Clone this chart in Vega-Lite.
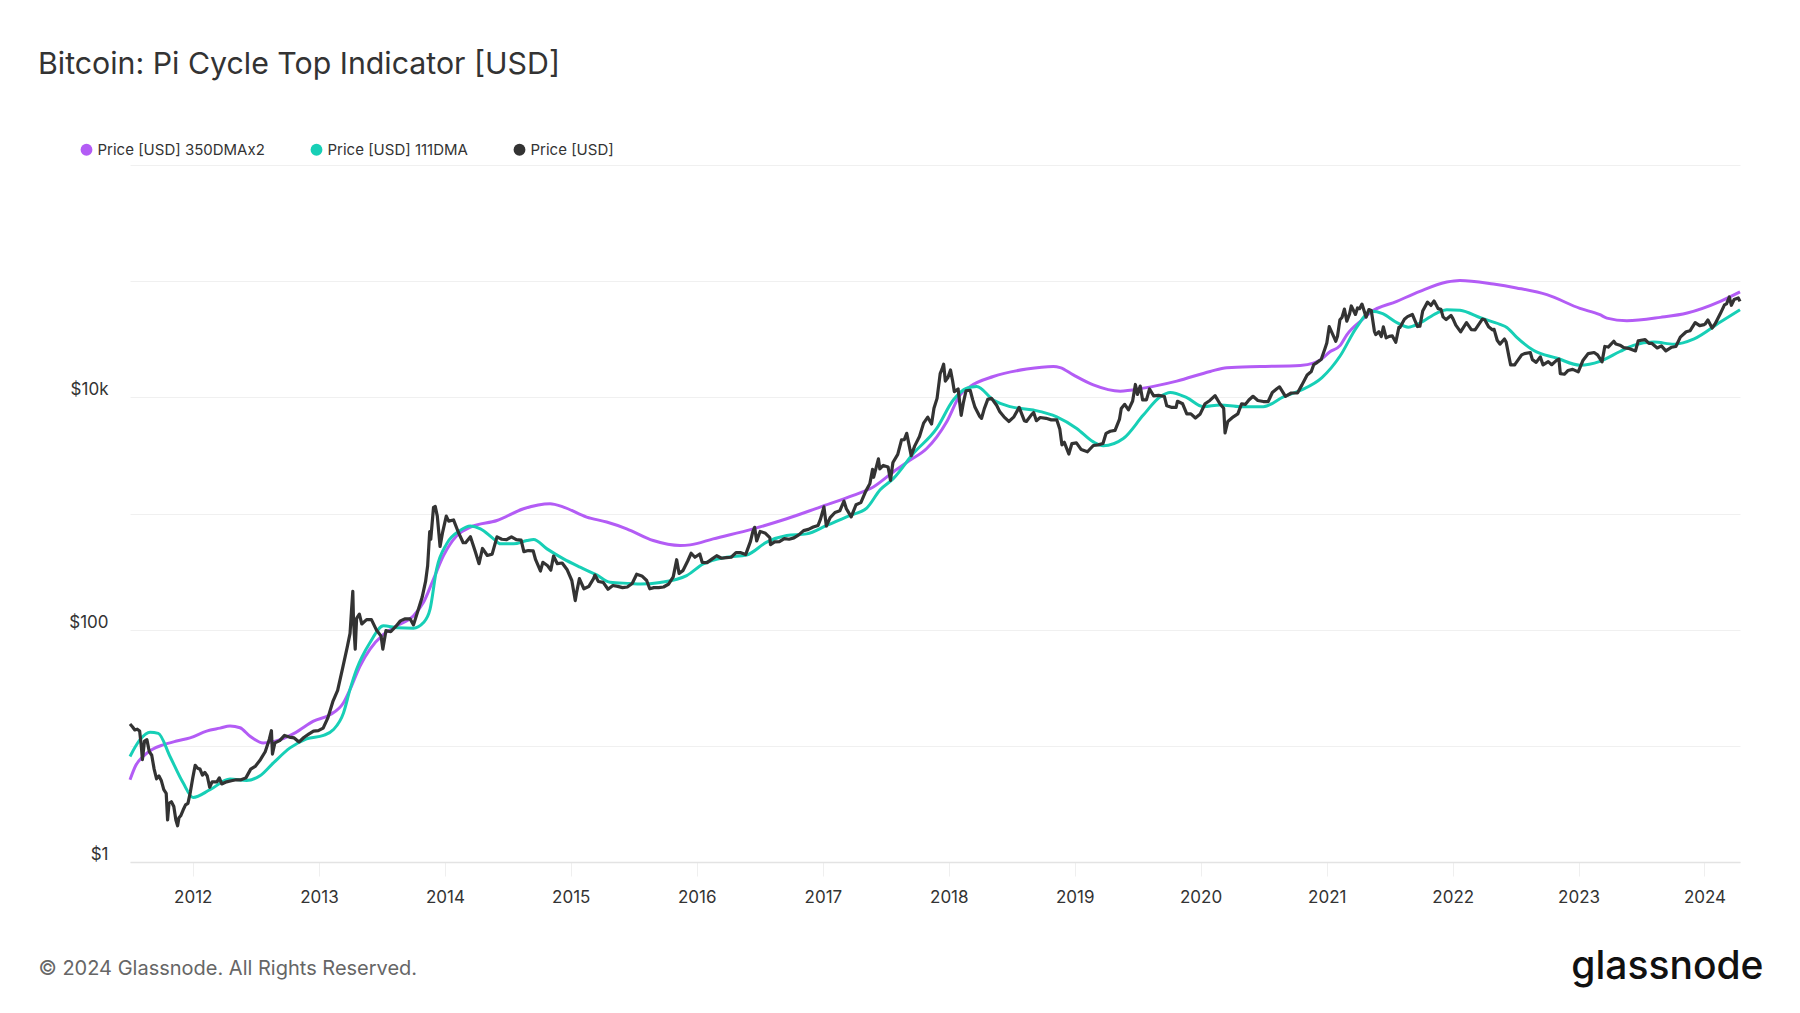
{
  "$schema": "https://vega.github.io/schema/vega-lite/v6.json",
  "description": "Bitcoin Pi Cycle Top Indicator: price with 111DMA and 350DMA x2 on a log scale.",
  "width": 1610,
  "height": 697,
  "autosize": {"type": "none"},
  "padding": {"left": 130, "top": 165, "right": 60, "bottom": 151},
  "background": "#ffffff",
  "title": {
    "text": "Bitcoin: Pi Cycle Top Indicator [USD]",
    "anchor": "start",
    "frame": "group",
    "dx": -92,
    "offset": 61.5,
    "font": "Inter",
    "fontSize": 30.3,
    "fontWeight": "normal",
    "color": "#333333"
  },
  "config": {
    "view": {"stroke": null},
    "font": "Inter",
    "axis": {
      "labelFont": "Inter",
      "titleFont": "Inter",
      "labelFontSize": 17,
      "labelColor": "#333333"
    },
    "legend": {"labelFont": "Inter"}
  },
  "datasets": {
    "ma350x2": [
      {"d": "2011-07-03", "v": 5.1},
      {"d": "2011-07-20", "v": 6.8},
      {"d": "2011-08-10", "v": 8.1},
      {"d": "2011-09-05", "v": 9.3},
      {"d": "2011-10-07", "v": 10.2},
      {"d": "2011-11-15", "v": 11.0},
      {"d": "2011-12-24", "v": 11.7},
      {"d": "2012-02-10", "v": 13.4},
      {"d": "2012-03-20", "v": 14.2},
      {"d": "2012-04-18", "v": 14.8},
      {"d": "2012-05-17", "v": 14.3},
      {"d": "2012-06-15", "v": 12.1},
      {"d": "2012-07-23", "v": 10.6},
      {"d": "2012-09-10", "v": 11.3},
      {"d": "2012-10-25", "v": 13.0},
      {"d": "2012-12-16", "v": 16.3},
      {"d": "2013-02-03", "v": 18.6},
      {"d": "2013-03-13", "v": 23.5},
      {"d": "2013-04-01", "v": 30.6},
      {"d": "2013-04-30", "v": 48.7},
      {"d": "2013-05-29", "v": 68},
      {"d": "2013-07-07", "v": 91},
      {"d": "2013-08-15", "v": 108},
      {"d": "2013-10-02", "v": 132},
      {"d": "2013-10-31", "v": 172},
      {"d": "2013-11-29", "v": 273},
      {"d": "2013-12-28", "v": 434},
      {"d": "2014-02-05", "v": 646},
      {"d": "2014-03-16", "v": 764},
      {"d": "2014-06-01", "v": 871},
      {"d": "2014-08-17", "v": 1099},
      {"d": "2014-11-02", "v": 1214},
      {"d": "2014-12-11", "v": 1136},
      {"d": "2015-02-16", "v": 931},
      {"d": "2015-04-15", "v": 844},
      {"d": "2015-06-12", "v": 738},
      {"d": "2015-08-28", "v": 585},
      {"d": "2015-11-14", "v": 530},
      {"d": "2015-12-13", "v": 537},
      {"d": "2016-02-18", "v": 605},
      {"d": "2016-06-13", "v": 738},
      {"d": "2016-09-18", "v": 901},
      {"d": "2016-12-24", "v": 1136},
      {"d": "2017-03-30", "v": 1432},
      {"d": "2017-05-27", "v": 1692},
      {"d": "2017-07-24", "v": 2280},
      {"d": "2017-09-10", "v": 2870},
      {"d": "2017-10-29", "v": 3625},
      {"d": "2017-12-26", "v": 6170},
      {"d": "2018-02-03", "v": 10500},
      {"d": "2018-03-04", "v": 12400},
      {"d": "2018-05-10", "v": 15100},
      {"d": "2018-08-15", "v": 17500},
      {"d": "2018-10-31", "v": 18400},
      {"d": "2018-11-20", "v": 18000},
      {"d": "2018-12-28", "v": 15600},
      {"d": "2019-02-24", "v": 12800},
      {"d": "2019-05-13", "v": 11300},
      {"d": "2019-07-19", "v": 12000},
      {"d": "2019-10-24", "v": 13800},
      {"d": "2020-01-29", "v": 16700},
      {"d": "2020-03-17", "v": 18000},
      {"d": "2020-06-22", "v": 18400},
      {"d": "2020-10-16", "v": 18800},
      {"d": "2020-11-23", "v": 19700},
      {"d": "2020-12-13", "v": 21000},
      {"d": "2021-01-11", "v": 24800},
      {"d": "2021-02-09", "v": 28000},
      {"d": "2021-02-28", "v": 34500},
      {"d": "2021-04-15", "v": 47000},
      {"d": "2021-05-06", "v": 53500},
      {"d": "2021-07-23", "v": 67000},
      {"d": "2021-09-28", "v": 81800},
      {"d": "2021-12-15", "v": 98400},
      {"d": "2022-01-22", "v": 101500},
      {"d": "2022-04-29", "v": 94500},
      {"d": "2022-07-05", "v": 87500},
      {"d": "2022-10-01", "v": 76500},
      {"d": "2023-01-05", "v": 58300},
      {"d": "2023-03-04", "v": 51400},
      {"d": "2023-03-24", "v": 48100},
      {"d": "2023-05-21", "v": 45700},
      {"d": "2023-08-26", "v": 48800},
      {"d": "2023-11-12", "v": 53200},
      {"d": "2024-02-16", "v": 67000},
      {"d": "2024-04-13", "v": 80800}
    ],
    "ma111": [
      {"d": "2011-07-03", "v": 8.1},
      {"d": "2011-08-01", "v": 11.3},
      {"d": "2011-08-30", "v": 13.1},
      {"d": "2011-09-23", "v": 12.8},
      {"d": "2011-10-27", "v": 8.1},
      {"d": "2011-12-04", "v": 4.8},
      {"d": "2012-01-02", "v": 3.6},
      {"d": "2012-02-20", "v": 4.19},
      {"d": "2012-04-18", "v": 5.18},
      {"d": "2012-06-05", "v": 5.04},
      {"d": "2012-07-14", "v": 5.53},
      {"d": "2012-08-21", "v": 7.1},
      {"d": "2012-10-09", "v": 9.6},
      {"d": "2012-11-26", "v": 11.5},
      {"d": "2013-01-14", "v": 12.3},
      {"d": "2013-02-12", "v": 13.8},
      {"d": "2013-03-13", "v": 19.2},
      {"d": "2013-04-01", "v": 30.6},
      {"d": "2013-04-20", "v": 45.6},
      {"d": "2013-05-29", "v": 77.5},
      {"d": "2013-07-07", "v": 108},
      {"d": "2013-08-15", "v": 104},
      {"d": "2013-10-02", "v": 103},
      {"d": "2013-10-31", "v": 115},
      {"d": "2013-11-19", "v": 150},
      {"d": "2013-12-08", "v": 333},
      {"d": "2014-01-06", "v": 548},
      {"d": "2014-02-14", "v": 713},
      {"d": "2014-03-16", "v": 779},
      {"d": "2014-04-14", "v": 738},
      {"d": "2014-05-22", "v": 605},
      {"d": "2014-06-11", "v": 548},
      {"d": "2014-07-19", "v": 548},
      {"d": "2014-08-27", "v": 585},
      {"d": "2014-09-15", "v": 597},
      {"d": "2014-10-24", "v": 496},
      {"d": "2014-12-11", "v": 407},
      {"d": "2015-01-28", "v": 345},
      {"d": "2015-03-17", "v": 296},
      {"d": "2015-04-25", "v": 256},
      {"d": "2015-06-22", "v": 250},
      {"d": "2015-07-21", "v": 247},
      {"d": "2015-09-17", "v": 255},
      {"d": "2015-12-03", "v": 292},
      {"d": "2016-01-20", "v": 368},
      {"d": "2016-03-28", "v": 421},
      {"d": "2016-05-25", "v": 440},
      {"d": "2016-07-22", "v": 567},
      {"d": "2016-09-18", "v": 646},
      {"d": "2016-11-15", "v": 668},
      {"d": "2017-01-12", "v": 789},
      {"d": "2017-03-21", "v": 962},
      {"d": "2017-05-08", "v": 1114},
      {"d": "2017-06-16", "v": 1600},
      {"d": "2017-07-24", "v": 1995},
      {"d": "2017-09-20", "v": 3280},
      {"d": "2017-11-27", "v": 5400},
      {"d": "2018-01-14", "v": 9480},
      {"d": "2018-02-22", "v": 11970},
      {"d": "2018-03-23", "v": 12400},
      {"d": "2018-05-10", "v": 9480},
      {"d": "2018-06-28", "v": 8310},
      {"d": "2018-09-03", "v": 7770},
      {"d": "2018-11-10", "v": 6800},
      {"d": "2019-01-07", "v": 5400},
      {"d": "2019-02-24", "v": 4140},
      {"d": "2019-03-25", "v": 3830},
      {"d": "2019-05-22", "v": 4420},
      {"d": "2019-07-19", "v": 7030},
      {"d": "2019-09-06", "v": 10100},
      {"d": "2019-10-05", "v": 11000},
      {"d": "2019-11-22", "v": 9930},
      {"d": "2020-01-09", "v": 8310},
      {"d": "2020-02-27", "v": 8590},
      {"d": "2020-04-25", "v": 8310},
      {"d": "2020-07-01", "v": 8310},
      {"d": "2020-08-28", "v": 10100},
      {"d": "2020-10-20", "v": 11600},
      {"d": "2020-12-18", "v": 14800},
      {"d": "2021-02-09", "v": 22800},
      {"d": "2021-03-27", "v": 39500},
      {"d": "2021-05-10", "v": 55000},
      {"d": "2021-06-12", "v": 52500},
      {"d": "2021-07-23", "v": 44000},
      {"d": "2021-08-25", "v": 40200},
      {"d": "2021-09-28", "v": 43600},
      {"d": "2021-11-16", "v": 53200},
      {"d": "2021-12-15", "v": 56800},
      {"d": "2022-01-22", "v": 56100},
      {"d": "2022-03-24", "v": 48200},
      {"d": "2022-05-18", "v": 42500},
      {"d": "2022-06-07", "v": 40000},
      {"d": "2022-07-05", "v": 33000},
      {"d": "2022-08-23", "v": 25400},
      {"d": "2022-10-31", "v": 21700},
      {"d": "2023-01-05", "v": 18900},
      {"d": "2023-03-04", "v": 20400},
      {"d": "2023-05-01", "v": 24800},
      {"d": "2023-06-09", "v": 28000},
      {"d": "2023-08-07", "v": 29900},
      {"d": "2023-10-05", "v": 28700},
      {"d": "2023-12-02", "v": 31900},
      {"d": "2024-02-16", "v": 44500},
      {"d": "2024-04-13", "v": 56800}
    ],
    "price": [
      {"d": "2011-07-03", "v": 15.4},
      {"d": "2011-07-10", "v": 14.6},
      {"d": "2011-07-17", "v": 13.7},
      {"d": "2011-07-24", "v": 13.9},
      {"d": "2011-07-31", "v": 13.4},
      {"d": "2011-08-05", "v": 9.8},
      {"d": "2011-08-08", "v": 7.6},
      {"d": "2011-08-14", "v": 11.0},
      {"d": "2011-08-21", "v": 11.3},
      {"d": "2011-08-28", "v": 8.9},
      {"d": "2011-09-04", "v": 8.3},
      {"d": "2011-09-11", "v": 6.3},
      {"d": "2011-09-18", "v": 5.2},
      {"d": "2011-09-25", "v": 5.5},
      {"d": "2011-10-02", "v": 5.0},
      {"d": "2011-10-09", "v": 4.2},
      {"d": "2011-10-16", "v": 3.9},
      {"d": "2011-10-20", "v": 2.3},
      {"d": "2011-10-24", "v": 3.2},
      {"d": "2011-10-31", "v": 3.3},
      {"d": "2011-11-07", "v": 3.0},
      {"d": "2011-11-13", "v": 2.3},
      {"d": "2011-11-18", "v": 2.05},
      {"d": "2011-11-22", "v": 2.4},
      {"d": "2011-11-27", "v": 2.5},
      {"d": "2011-12-04", "v": 2.8},
      {"d": "2011-12-11", "v": 3.1},
      {"d": "2011-12-18", "v": 3.2},
      {"d": "2011-12-25", "v": 4.0},
      {"d": "2012-01-01", "v": 5.3},
      {"d": "2012-01-08", "v": 6.8},
      {"d": "2012-01-15", "v": 6.4},
      {"d": "2012-01-22", "v": 6.3},
      {"d": "2012-01-29", "v": 5.6},
      {"d": "2012-02-05", "v": 5.9},
      {"d": "2012-02-12", "v": 5.5},
      {"d": "2012-02-19", "v": 4.4},
      {"d": "2012-02-26", "v": 4.9},
      {"d": "2012-03-11", "v": 4.9},
      {"d": "2012-03-18", "v": 5.3},
      {"d": "2012-03-25", "v": 4.7},
      {"d": "2012-04-08", "v": 4.9},
      {"d": "2012-04-22", "v": 5.0},
      {"d": "2012-05-06", "v": 5.1},
      {"d": "2012-05-20", "v": 5.1},
      {"d": "2012-06-03", "v": 5.3},
      {"d": "2012-06-17", "v": 6.3},
      {"d": "2012-07-01", "v": 6.7},
      {"d": "2012-07-15", "v": 7.6},
      {"d": "2012-07-29", "v": 8.9},
      {"d": "2012-08-10", "v": 11.4},
      {"d": "2012-08-16", "v": 13.5},
      {"d": "2012-08-19", "v": 8.5},
      {"d": "2012-08-26", "v": 10.6},
      {"d": "2012-09-09", "v": 11.1},
      {"d": "2012-09-23", "v": 12.3},
      {"d": "2012-10-07", "v": 11.9},
      {"d": "2012-10-21", "v": 11.7},
      {"d": "2012-11-04", "v": 10.8},
      {"d": "2012-11-18", "v": 11.8},
      {"d": "2012-12-02", "v": 12.6},
      {"d": "2012-12-16", "v": 13.4},
      {"d": "2012-12-30", "v": 13.5},
      {"d": "2013-01-13", "v": 14.2},
      {"d": "2013-01-27", "v": 17.5},
      {"d": "2013-02-10", "v": 24.0},
      {"d": "2013-02-24", "v": 30.0},
      {"d": "2013-03-10", "v": 46.0},
      {"d": "2013-03-24", "v": 71.0},
      {"d": "2013-04-01", "v": 93.0},
      {"d": "2013-04-05", "v": 142},
      {"d": "2013-04-09", "v": 214},
      {"d": "2013-04-11", "v": 120},
      {"d": "2013-04-16", "v": 68},
      {"d": "2013-04-20", "v": 125},
      {"d": "2013-04-28", "v": 136},
      {"d": "2013-05-05", "v": 112},
      {"d": "2013-05-19", "v": 122},
      {"d": "2013-06-02", "v": 122},
      {"d": "2013-06-16", "v": 100},
      {"d": "2013-06-30", "v": 88},
      {"d": "2013-07-05", "v": 68},
      {"d": "2013-07-14", "v": 98},
      {"d": "2013-07-28", "v": 96},
      {"d": "2013-08-11", "v": 106},
      {"d": "2013-08-25", "v": 119},
      {"d": "2013-09-08", "v": 124},
      {"d": "2013-09-22", "v": 124},
      {"d": "2013-10-02", "v": 110},
      {"d": "2013-10-13", "v": 140},
      {"d": "2013-10-27", "v": 190},
      {"d": "2013-11-06", "v": 260},
      {"d": "2013-11-12", "v": 355},
      {"d": "2013-11-18", "v": 700},
      {"d": "2013-11-21", "v": 600},
      {"d": "2013-11-29", "v": 1130},
      {"d": "2013-12-04", "v": 1150},
      {"d": "2013-12-10", "v": 950},
      {"d": "2013-12-18", "v": 520},
      {"d": "2013-12-25", "v": 680},
      {"d": "2014-01-05", "v": 950},
      {"d": "2014-01-12", "v": 860},
      {"d": "2014-01-26", "v": 880},
      {"d": "2014-02-09", "v": 690},
      {"d": "2014-02-23", "v": 560},
      {"d": "2014-03-02", "v": 560},
      {"d": "2014-03-16", "v": 630},
      {"d": "2014-03-30", "v": 470},
      {"d": "2014-04-10", "v": 370},
      {"d": "2014-04-20", "v": 500},
      {"d": "2014-05-04", "v": 435},
      {"d": "2014-05-18", "v": 447},
      {"d": "2014-06-01", "v": 630},
      {"d": "2014-06-15", "v": 600},
      {"d": "2014-06-29", "v": 595},
      {"d": "2014-07-13", "v": 630},
      {"d": "2014-07-27", "v": 595},
      {"d": "2014-08-10", "v": 590},
      {"d": "2014-08-18", "v": 470},
      {"d": "2014-08-31", "v": 480},
      {"d": "2014-09-14", "v": 477},
      {"d": "2014-09-21", "v": 400},
      {"d": "2014-10-05", "v": 320},
      {"d": "2014-10-12", "v": 380},
      {"d": "2014-10-26", "v": 355},
      {"d": "2014-11-04", "v": 325},
      {"d": "2014-11-12", "v": 430},
      {"d": "2014-11-23", "v": 370},
      {"d": "2014-12-07", "v": 375},
      {"d": "2014-12-21", "v": 330},
      {"d": "2015-01-04", "v": 265},
      {"d": "2015-01-14", "v": 178},
      {"d": "2015-01-18", "v": 210},
      {"d": "2015-01-26", "v": 275},
      {"d": "2015-02-08", "v": 225},
      {"d": "2015-02-22", "v": 235},
      {"d": "2015-03-08", "v": 275},
      {"d": "2015-03-12", "v": 295},
      {"d": "2015-03-22", "v": 260},
      {"d": "2015-04-05", "v": 255},
      {"d": "2015-04-19", "v": 223},
      {"d": "2015-05-03", "v": 240},
      {"d": "2015-05-17", "v": 236},
      {"d": "2015-05-31", "v": 230},
      {"d": "2015-06-14", "v": 233},
      {"d": "2015-06-28", "v": 250},
      {"d": "2015-07-11", "v": 300},
      {"d": "2015-07-26", "v": 290},
      {"d": "2015-08-09", "v": 265},
      {"d": "2015-08-18", "v": 225},
      {"d": "2015-08-30", "v": 230},
      {"d": "2015-09-13", "v": 230},
      {"d": "2015-09-27", "v": 233},
      {"d": "2015-10-11", "v": 246},
      {"d": "2015-10-25", "v": 285},
      {"d": "2015-11-04", "v": 400},
      {"d": "2015-11-11", "v": 305},
      {"d": "2015-11-22", "v": 322},
      {"d": "2015-12-06", "v": 390},
      {"d": "2015-12-16", "v": 455},
      {"d": "2015-12-27", "v": 420},
      {"d": "2016-01-10", "v": 448},
      {"d": "2016-01-17", "v": 380},
      {"d": "2016-01-31", "v": 378},
      {"d": "2016-02-14", "v": 405},
      {"d": "2016-02-28", "v": 433},
      {"d": "2016-03-13", "v": 412},
      {"d": "2016-03-27", "v": 417},
      {"d": "2016-04-10", "v": 420},
      {"d": "2016-04-24", "v": 460},
      {"d": "2016-05-08", "v": 460},
      {"d": "2016-05-22", "v": 443},
      {"d": "2016-06-05", "v": 575},
      {"d": "2016-06-12", "v": 700},
      {"d": "2016-06-17", "v": 760},
      {"d": "2016-06-23", "v": 580},
      {"d": "2016-07-03", "v": 700},
      {"d": "2016-07-17", "v": 680},
      {"d": "2016-07-31", "v": 620},
      {"d": "2016-08-02", "v": 540},
      {"d": "2016-08-14", "v": 570},
      {"d": "2016-08-28", "v": 572},
      {"d": "2016-09-11", "v": 607},
      {"d": "2016-09-25", "v": 600},
      {"d": "2016-10-09", "v": 617},
      {"d": "2016-10-23", "v": 655},
      {"d": "2016-11-06", "v": 712},
      {"d": "2016-11-20", "v": 730},
      {"d": "2016-12-04", "v": 765},
      {"d": "2016-12-18", "v": 790},
      {"d": "2016-12-25", "v": 895},
      {"d": "2017-01-04", "v": 1140},
      {"d": "2017-01-11", "v": 780},
      {"d": "2017-01-22", "v": 920},
      {"d": "2017-02-05", "v": 1020},
      {"d": "2017-02-19", "v": 1055},
      {"d": "2017-03-03", "v": 1280},
      {"d": "2017-03-10", "v": 1100},
      {"d": "2017-03-24", "v": 935},
      {"d": "2017-04-07", "v": 1190},
      {"d": "2017-04-21", "v": 1240},
      {"d": "2017-05-05", "v": 1550},
      {"d": "2017-05-17", "v": 1800},
      {"d": "2017-05-25", "v": 2400},
      {"d": "2017-05-28", "v": 2050},
      {"d": "2017-06-11", "v": 2950},
      {"d": "2017-06-15", "v": 2420},
      {"d": "2017-06-25", "v": 2590},
      {"d": "2017-07-09", "v": 2510},
      {"d": "2017-07-16", "v": 1930},
      {"d": "2017-07-23", "v": 2750},
      {"d": "2017-08-06", "v": 3230},
      {"d": "2017-08-17", "v": 4300},
      {"d": "2017-08-25", "v": 4330},
      {"d": "2017-09-01", "v": 4900},
      {"d": "2017-09-14", "v": 3150},
      {"d": "2017-09-24", "v": 3800},
      {"d": "2017-10-08", "v": 4600},
      {"d": "2017-10-20", "v": 6000},
      {"d": "2017-11-01", "v": 6750},
      {"d": "2017-11-12", "v": 5900},
      {"d": "2017-11-19", "v": 8050},
      {"d": "2017-11-28", "v": 9800},
      {"d": "2017-12-07", "v": 16000},
      {"d": "2017-12-12", "v": 17400},
      {"d": "2017-12-17", "v": 19300},
      {"d": "2017-12-22", "v": 13800},
      {"d": "2017-12-29", "v": 14700},
      {"d": "2018-01-06", "v": 17200},
      {"d": "2018-01-12", "v": 13900},
      {"d": "2018-01-17", "v": 11200},
      {"d": "2018-01-28", "v": 11800},
      {"d": "2018-02-06", "v": 7000},
      {"d": "2018-02-12", "v": 8900},
      {"d": "2018-02-20", "v": 11400},
      {"d": "2018-03-04", "v": 11500},
      {"d": "2018-03-11", "v": 9600},
      {"d": "2018-03-18", "v": 8200},
      {"d": "2018-03-31", "v": 6900},
      {"d": "2018-04-06", "v": 6600},
      {"d": "2018-04-14", "v": 8000},
      {"d": "2018-04-24", "v": 9600},
      {"d": "2018-05-05", "v": 9800},
      {"d": "2018-05-20", "v": 8500},
      {"d": "2018-05-29", "v": 7500},
      {"d": "2018-06-10", "v": 6800},
      {"d": "2018-06-24", "v": 6200},
      {"d": "2018-07-08", "v": 6750},
      {"d": "2018-07-24", "v": 8200},
      {"d": "2018-08-08", "v": 6300},
      {"d": "2018-08-14", "v": 6200},
      {"d": "2018-08-29", "v": 7100},
      {"d": "2018-09-04", "v": 7400},
      {"d": "2018-09-12", "v": 6300},
      {"d": "2018-09-23", "v": 6700},
      {"d": "2018-10-10", "v": 6600},
      {"d": "2018-10-25", "v": 6400},
      {"d": "2018-11-10", "v": 6400},
      {"d": "2018-11-19", "v": 5300},
      {"d": "2018-11-25", "v": 3900},
      {"d": "2018-12-02", "v": 4100},
      {"d": "2018-12-15", "v": 3250},
      {"d": "2018-12-24", "v": 4000},
      {"d": "2019-01-06", "v": 4050},
      {"d": "2019-01-20", "v": 3550},
      {"d": "2019-02-07", "v": 3400},
      {"d": "2019-02-24", "v": 3850},
      {"d": "2019-03-10", "v": 3900},
      {"d": "2019-03-24", "v": 4000},
      {"d": "2019-04-02", "v": 4900},
      {"d": "2019-04-14", "v": 5100},
      {"d": "2019-04-28", "v": 5200},
      {"d": "2019-05-11", "v": 6500},
      {"d": "2019-05-16", "v": 8000},
      {"d": "2019-05-26", "v": 8700},
      {"d": "2019-06-06", "v": 7800},
      {"d": "2019-06-18", "v": 9300},
      {"d": "2019-06-26", "v": 12900},
      {"d": "2019-07-02", "v": 10600},
      {"d": "2019-07-10", "v": 12500},
      {"d": "2019-07-17", "v": 9500},
      {"d": "2019-07-28", "v": 9500},
      {"d": "2019-08-06", "v": 11800},
      {"d": "2019-08-18", "v": 10300},
      {"d": "2019-09-01", "v": 10400},
      {"d": "2019-09-18", "v": 10200},
      {"d": "2019-09-25", "v": 8450},
      {"d": "2019-10-08", "v": 8200},
      {"d": "2019-10-22", "v": 8200},
      {"d": "2019-10-26", "v": 9250},
      {"d": "2019-11-10", "v": 8800},
      {"d": "2019-11-22", "v": 7200},
      {"d": "2019-12-04", "v": 7200},
      {"d": "2019-12-17", "v": 6640},
      {"d": "2019-12-31", "v": 7200},
      {"d": "2020-01-14", "v": 8800},
      {"d": "2020-01-28", "v": 9400},
      {"d": "2020-02-12", "v": 10350},
      {"d": "2020-02-26", "v": 8800},
      {"d": "2020-03-08", "v": 8050},
      {"d": "2020-03-12", "v": 4950},
      {"d": "2020-03-20", "v": 6200},
      {"d": "2020-04-05", "v": 6800},
      {"d": "2020-04-18", "v": 7200},
      {"d": "2020-04-29", "v": 8800},
      {"d": "2020-05-10", "v": 8700},
      {"d": "2020-05-20", "v": 9500},
      {"d": "2020-06-01", "v": 10200},
      {"d": "2020-06-15", "v": 9400},
      {"d": "2020-07-01", "v": 9200},
      {"d": "2020-07-15", "v": 9200},
      {"d": "2020-07-27", "v": 11000},
      {"d": "2020-08-10", "v": 11900},
      {"d": "2020-08-17", "v": 12300},
      {"d": "2020-09-03", "v": 10200},
      {"d": "2020-09-20", "v": 10900},
      {"d": "2020-10-08", "v": 10900},
      {"d": "2020-10-21", "v": 12800},
      {"d": "2020-11-05", "v": 15600},
      {"d": "2020-11-17", "v": 16700},
      {"d": "2020-11-24", "v": 19100},
      {"d": "2020-12-01", "v": 19700},
      {"d": "2020-12-16", "v": 21300},
      {"d": "2020-12-27", "v": 26500},
      {"d": "2021-01-01", "v": 29400},
      {"d": "2021-01-08", "v": 40600},
      {"d": "2021-01-22", "v": 32800},
      {"d": "2021-01-27", "v": 30400},
      {"d": "2021-02-01", "v": 33500},
      {"d": "2021-02-08", "v": 46500},
      {"d": "2021-02-14", "v": 48700},
      {"d": "2021-02-21", "v": 57500},
      {"d": "2021-02-28", "v": 45200},
      {"d": "2021-03-08", "v": 52300},
      {"d": "2021-03-13", "v": 61200},
      {"d": "2021-03-25", "v": 51700},
      {"d": "2021-03-31", "v": 58800},
      {"d": "2021-04-06", "v": 58000},
      {"d": "2021-04-13", "v": 63500},
      {"d": "2021-04-25", "v": 49000},
      {"d": "2021-05-03", "v": 57000},
      {"d": "2021-05-10", "v": 56000},
      {"d": "2021-05-19", "v": 37000},
      {"d": "2021-05-23", "v": 34700},
      {"d": "2021-06-01", "v": 36700},
      {"d": "2021-06-08", "v": 33400},
      {"d": "2021-06-14", "v": 40500},
      {"d": "2021-06-22", "v": 32500},
      {"d": "2021-07-01", "v": 33500},
      {"d": "2021-07-10", "v": 33800},
      {"d": "2021-07-20", "v": 29800},
      {"d": "2021-07-29", "v": 40000},
      {"d": "2021-08-01", "v": 39900},
      {"d": "2021-08-14", "v": 47000},
      {"d": "2021-08-23", "v": 49500},
      {"d": "2021-09-06", "v": 51700},
      {"d": "2021-09-21", "v": 40700},
      {"d": "2021-09-28", "v": 41000},
      {"d": "2021-10-06", "v": 55300},
      {"d": "2021-10-20", "v": 66000},
      {"d": "2021-10-30", "v": 61800},
      {"d": "2021-11-08", "v": 67500},
      {"d": "2021-11-20", "v": 58000},
      {"d": "2021-11-28", "v": 57200},
      {"d": "2021-12-04", "v": 49300},
      {"d": "2021-12-13", "v": 46700},
      {"d": "2021-12-27", "v": 50700},
      {"d": "2022-01-02", "v": 47300},
      {"d": "2022-01-10", "v": 41800},
      {"d": "2022-01-24", "v": 36600},
      {"d": "2022-02-10", "v": 44000},
      {"d": "2022-02-24", "v": 38300},
      {"d": "2022-03-07", "v": 38000},
      {"d": "2022-03-28", "v": 47100},
      {"d": "2022-04-04", "v": 46600},
      {"d": "2022-04-15", "v": 40500},
      {"d": "2022-04-26", "v": 38100},
      {"d": "2022-05-01", "v": 38500},
      {"d": "2022-05-10", "v": 31000},
      {"d": "2022-05-18", "v": 28700},
      {"d": "2022-05-31", "v": 31800},
      {"d": "2022-06-05", "v": 29900},
      {"d": "2022-06-13", "v": 22500},
      {"d": "2022-06-18", "v": 19000},
      {"d": "2022-06-30", "v": 19000},
      {"d": "2022-07-01", "v": 19300},
      {"d": "2022-07-20", "v": 23200},
      {"d": "2022-07-28", "v": 23800},
      {"d": "2022-08-14", "v": 24300},
      {"d": "2022-08-20", "v": 21100},
      {"d": "2022-08-31", "v": 20000},
      {"d": "2022-09-12", "v": 22300},
      {"d": "2022-09-20", "v": 19000},
      {"d": "2022-10-05", "v": 20300},
      {"d": "2022-10-15", "v": 19100},
      {"d": "2022-10-29", "v": 20800},
      {"d": "2022-11-05", "v": 21300},
      {"d": "2022-11-09", "v": 16000},
      {"d": "2022-11-21", "v": 15800},
      {"d": "2022-12-01", "v": 17000},
      {"d": "2022-12-15", "v": 17400},
      {"d": "2022-12-31", "v": 16550},
      {"d": "2023-01-14", "v": 20900},
      {"d": "2023-01-29", "v": 23800},
      {"d": "2023-02-15", "v": 24300},
      {"d": "2023-02-25", "v": 23200},
      {"d": "2023-03-10", "v": 20200},
      {"d": "2023-03-18", "v": 27400},
      {"d": "2023-03-28", "v": 27100},
      {"d": "2023-04-13", "v": 30400},
      {"d": "2023-04-19", "v": 28800},
      {"d": "2023-05-01", "v": 28100},
      {"d": "2023-05-12", "v": 26800},
      {"d": "2023-05-25", "v": 26400},
      {"d": "2023-06-15", "v": 25100},
      {"d": "2023-06-23", "v": 30700},
      {"d": "2023-07-13", "v": 31400},
      {"d": "2023-07-24", "v": 29100},
      {"d": "2023-08-01", "v": 29200},
      {"d": "2023-08-17", "v": 26600},
      {"d": "2023-08-29", "v": 27700},
      {"d": "2023-09-11", "v": 25100},
      {"d": "2023-09-28", "v": 27000},
      {"d": "2023-10-10", "v": 27400},
      {"d": "2023-10-23", "v": 33000},
      {"d": "2023-11-09", "v": 36700},
      {"d": "2023-11-20", "v": 37400},
      {"d": "2023-12-05", "v": 44000},
      {"d": "2023-12-18", "v": 41400},
      {"d": "2023-12-31", "v": 42300},
      {"d": "2024-01-03", "v": 42800},
      {"d": "2024-01-11", "v": 46300},
      {"d": "2024-01-23", "v": 39500},
      {"d": "2024-02-01", "v": 43000},
      {"d": "2024-02-15", "v": 51800},
      {"d": "2024-02-28", "v": 62500},
      {"d": "2024-03-05", "v": 63800},
      {"d": "2024-03-13", "v": 73100},
      {"d": "2024-03-19", "v": 62000},
      {"d": "2024-03-27", "v": 69500},
      {"d": "2024-04-08", "v": 71700},
      {"d": "2024-04-13", "v": 67000}
    ]
  },
  "encoding": {
    "x": {
      "field": "d",
      "type": "temporal",
      "scale": {
        "type": "utc",
        "domain": [
          {"year": 2011, "month": 7, "date": 3, "utc": true},
          {"year": 2024, "month": 4, "date": 13, "utc": true}
        ]
      },
      "axis": {
        "title": "© 2024 Glassnode. All Rights Reserved.",
        "titleX": -92,
        "titleY": 106,
        "titleAlign": "left",
        "titleBaseline": "middle",
        "titleAnchor": null,
        "titleFontSize": 20,
        "titleFontWeight": "normal",
        "titleColor": "#666666",
        "format": "%Y",
        "tickCount": {"interval": "year", "step": 1},
        "grid": false,
        "domain": true,
        "domainColor": "#e3e3e3",
        "domainWidth": 1.5,
        "ticks": true,
        "tickColor": "#efefef",
        "tickSize": 14,
        "tickWidth": 1,
        "labelPadding": 13,
        "labelAlign": "center",
        "labelFlush": false
      }
    },
    "y": {
      "field": "v",
      "type": "quantitative",
      "scale": {"type": "log", "domain": [1, 1000000], "nice": false},
      "axis": {
        "title": "glassnode",
        "titleAngle": 0,
        "titleX": 1633,
        "titleY": 813,
        "titleAlign": "right",
        "titleBaseline": "alphabetic",
        "titleFontSize": 39,
        "titleFontWeight": 500,
        "titleColor": "#111111",
        "values": [1, 10, 100, 1000, 10000, 100000, 1000000],
        "labelExpr": "datum.value == 1 ? '$1' : datum.value == 100 ? '$100' : datum.value == 10000 ? '$10k' : ''",
        "labelBaseline": "bottom",
        "labelOffset": 1.5,
        "labelPadding": 22,
        "ticks": false,
        "tickSize": 0,
        "domain": false,
        "grid": true,
        "gridColor": "#f0f0f0",
        "gridWidth": 1
      }
    },
    "color": {
      "scale": {
        "domain": ["Price [USD] 350DMAx2", "Price [USD] 111DMA", "Price [USD]"],
        "range": ["#b35cf5", "#17cfb6", "#333333"]
      },
      "legend": {
        "title": null,
        "orient": "none",
        "legendX": -51,
        "legendY": -23,
        "direction": "horizontal",
        "padding": 0,
        "symbolType": "circle",
        "symbolSize": 140,
        "labelFontSize": 15,
        "labelLimit": 0,
        "labelColor": "#333333",
        "labelOffset": 3.5,
        "columnPadding": 44,
        "encode": {
          "symbols": {
            "update": {
              "fill": {"scale": "color", "field": "value"},
              "strokeWidth": {"value": 0}
            }
          }
        }
      }
    }
  },
  "layer": [
    {
      "data": {"name": "ma350x2"},
      "mark": {"type": "line", "strokeWidth": 3, "interpolate": "monotone"},
      "encoding": {"color": {"datum": "Price [USD] 350DMAx2"}}
    },
    {
      "data": {"name": "ma111"},
      "mark": {"type": "line", "strokeWidth": 3, "interpolate": "monotone"},
      "encoding": {"color": {"datum": "Price [USD] 111DMA"}}
    },
    {
      "data": {"name": "price"},
      "mark": {"type": "line", "strokeWidth": 3.2, "strokeJoin": "round"},
      "encoding": {"color": {"datum": "Price [USD]"}}
    }
  ]
}
